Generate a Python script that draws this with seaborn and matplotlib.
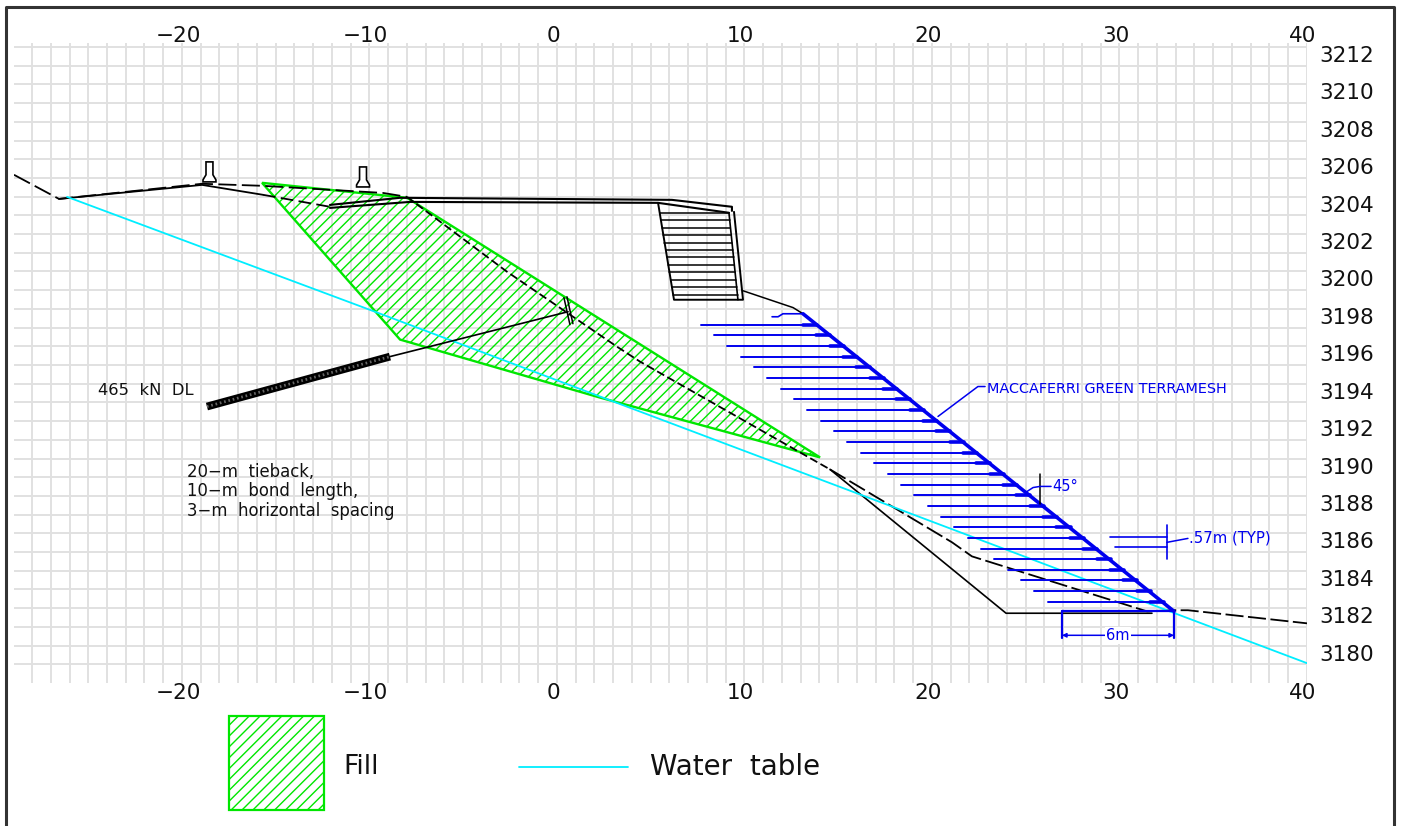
import numpy as np
import pandas as pd
import seaborn as sns
import matplotlib
matplotlib.use('Agg')
import matplotlib.pyplot as plt
from matplotlib.lines import Line2D
from matplotlib.patches import Polygon, Rectangle
from matplotlib.transforms import Affine2D

# section geometry, metres (offset) and metres (elevation)
x_top_labels = [-20, -10, 0, 10, 20, 30, 40]
y_right_labels = list(range(3212, 3178, -2))

ground_left_x = [-28.96, -26.56, -18.93, -15.68, -9.28, -8.0]
ground_left_y = [3205.17, 3203.88, 3204.69, 3204.58, 3204.2, 3203.99]
ground_mid_x = [-8.0, -2.67, 3.2, 4.43, 14.56]
ground_mid_y = [3203.99, 3199.99, 3195.98, 3195.18, 3189.42]
ground_right_x = [14.56, 21.07, 22.13, 31.47, 32.85, 33.65, 40.0]
ground_right_y = [3189.42, 3185.52, 3184.77, 3181.83, 3181.89, 3181.89, 3181.19]

solid_x = [-26.56, -18.93, -15.68]
solid_y = [3203.88, 3204.63, 3204.1]
solid_dash_x = [-15.68, -12.11]
solid_dash_y = [3204.1, 3203.46]

road_top_x = [-12.11, -8.37, 6.13, 9.33, 9.33]
road_top_y = [3203.56, 3203.94, 3203.83, 3203.46, 3203.24]
road_low_x = [-12.11, -7.84, 5.39, 9.17]
road_low_y = [3203.4, 3203.72, 3203.67, 3203.14]

wall_x = [5.39, 6.24, 9.92, 9.44]
wall_y = [3203.67, 3198.49, 3198.49, 3203.19]
wall_in_x = [9.17, 9.65]
wall_in_y = [3203.14, 3198.49]
layer_y = [3203.15, 3202.76, 3202.35, 3201.96, 3201.55, 3201.15, 3200.76, 3200.35, 3199.96, 3199.56, 3199.15, 3198.76]
layer_x0 = [5.47, 5.54, 5.6, 5.67, 5.73, 5.8, 5.87, 5.94, 6.0, 6.06, 6.13, 6.2]
layer_x1 = [9.17, 9.21, 9.25, 9.3, 9.33, 9.38, 9.42, 9.46, 9.5, 9.54, 9.58, 9.63]

bench_x = [9.92, 12.59, 13.12]
bench_y = [3198.97, 3198.07, 3197.74]
cut_x = [14.56, 23.95, 31.73]
cut_y = [3189.42, 3181.73, 3181.73]

water_x = [-26.13, -9.71, 16.16, 40.0]
water_y = [3203.99, 3197.85, 3188.08, 3179.06]

fill_x = [-15.73, -8.0, 14.03, 2.29, -8.37]
fill_y = [3204.74, 3203.94, 3190.06, 3193.26, 3196.36]

# geogrid strips
strip_y = [3197.16, 3196.59, 3196.02, 3195.45, 3194.88, 3194.31, 3193.74, 3193.17, 3192.60,
           3192.03, 3191.46, 3190.89, 3190.32, 3189.75, 3189.18, 3188.61, 3188.04, 3187.47,
           3186.90, 3186.33, 3185.76, 3185.19, 3184.62, 3184.05, 3183.48, 3182.91, 3182.34]
strip_x0 = [7.66, 8.37, 9.09, 9.80, 10.51, 11.22, 11.93, 12.65, 13.36, 14.07, 14.78, 15.49, 16.21,
            16.92, 17.63, 18.34, 19.05, 19.77, 20.48, 21.19, 21.90, 22.61, 23.33, 24.04, 24.75, 25.46, 26.17]
strip_x1 = [13.86, 14.57, 15.29, 16.00, 16.71, 17.42, 18.13, 18.85, 19.56, 20.27, 20.98, 21.69, 22.41,
            23.12, 23.83, 24.54, 25.25, 25.97, 26.68, 27.39, 28.10, 28.81, 29.53, 30.24, 30.95, 31.66, 32.37]
face_x = [13.12, 32.91]
face_y = [3197.74, 3181.83]
cap_x = [11.47, 11.79, 12.05, 13.12]
cap_y = [3197.58, 3197.58, 3197.74, 3197.74]

# tieback
bond_x = [-18.67, -8.91]
bond_y = [3192.78, 3195.45]
tendon_x = [-8.91, 0.59]
tendon_y = [3195.45, 3197.85]
plate_a_x = [0.37, 0.69]
plate_a_y = [3198.6, 3197.16]
plate_b_x = [0.53, 0.85]
plate_b_y = [3198.65, 3197.21]

# barriers
barrier1_x = [-18.72, -18.35, -18.35, -18.19, -18.19, -18.88, -18.88, -18.72]
barrier1_y = [3205.86, 3205.86, 3205.17, 3204.9, 3204.79, 3204.79, 3204.9, 3205.17]
barrier2_x = [-10.53, -10.16, -10.16, -10.0, -10.0, -10.69, -10.69, -10.53]
barrier2_y = [3205.59, 3205.59, 3204.9, 3204.63, 3204.52, 3204.52, 3204.63, 3204.9]

BLUE = '#0000ee'
GREEN = '#00e600'
CYAN = '#00eeff'
GRID = '#e0e0e0'

sns.set_theme(style='white')
plt.rcParams['font.family'] = ['DejaVu Sans']

fig = plt.figure(figsize=(14.01, 8.26), dpi=100, facecolor='white')
ax = fig.add_axes([14 / 1401, 1 - 683 / 826, 1293 / 1401, 639.7 / 826])
ax.set_facecolor('white')


def line(x, y, color='black', lw=1.2, **kw):
    df = pd.DataFrame({'x': x, 'y': y})
    sns.lineplot(data=df, x='x', y='y', ax=ax, sort=False, estimator=None, errorbar=None,
                 color=color, linewidth=lw, legend=False, zorder=kw.pop('zorder', 3), **kw)


def hatch(patch, x0, x1, y0, length, step=0.58):
    # 45 degree lines, clipped to the patch
    for off in np.arange(x0, x1, step):
        h = ax.plot([off, off + length], [y0, y0 + length], color=GREEN, lw=1.0, zorder=2)[0]
        h.set_clip_path(patch)


ax.set_xlim(-28.96, 40)
ax.set_ylim(3178, 3212.2)
ax.set_xticks(x_top_labels)
ax.set_xticklabels([str(v).replace('-', '\u2212') for v in x_top_labels])
ax.set_xticks(np.arange(-28, 41), minor=True)
ax.set_yticks(y_right_labels)
ax.set_yticks(np.arange(3179, 3213), minor=True)
ax.grid(which='both', color=GRID, linewidth=1.35, zorder=0)
ax.set_axisbelow(True)
ax.tick_params(axis='x', which='major', length=0, labelsize=15.5, labeltop=True, labelbottom=True,
               top=False, bottom=False, pad=0, labelcolor='#111111')
ax.tick_params(axis='y', which='major', length=0, labelsize=15.5, labelright=True, labelleft=False,
               left=False, right=False, pad=9, labelcolor='#111111')
ax.tick_params(which='minor', length=0)
for s in ax.spines.values():
    s.set_visible(False)

# fill zone
fill = Polygon(list(zip(fill_x, fill_y)), closed=True, fc='none', ec=GREEN, lw=1.7, zorder=2.5)
ax.add_patch(fill)
hatch(fill, -62, -15, 3160, 60)

# profiles
line(ground_left_x, ground_left_y, lw=1.3, linestyle=(0, (10, 3)))
line(ground_mid_x, ground_mid_y, lw=1.3, linestyle=(0, (4.5, 2)))
line(ground_right_x, ground_right_y, lw=1.3, linestyle=(0, (10, 2.5)))
line(solid_x, solid_y, lw=1.3)
line(solid_dash_x, solid_dash_y, lw=1.3, linestyle=(0, (7, 3)))
line(road_top_x, road_top_y, lw=1.5)
line(road_low_x, road_low_y, lw=1.5)
line(wall_x, wall_y, lw=1.4)
line(wall_in_x, wall_in_y, lw=1.2)
for yy, a, b in zip(layer_y, layer_x0, layer_x1):
    line([a, b], [yy, yy], lw=1.1)
line(bench_x, bench_y, lw=1.1)
line(cut_x, cut_y, lw=1.2)
line(water_x, water_y, color=CYAN, lw=1.3)

# barriers
for bx, by in [(barrier1_x, barrier1_y), (barrier2_x, barrier2_y)]:
    ax.add_patch(Polygon(list(zip(bx, by)), closed=True, fc='white', ec='black', lw=1.2, zorder=4))

# tieback
line(bond_x, bond_y, lw=5.6, solid_capstyle='butt')
line(bond_x, bond_y, color='#666666', lw=2.0, linestyle=(0, (0.6, 1.0)), zorder=4)
line(tendon_x, tendon_y, lw=1.2)
line(plate_a_x, plate_a_y, lw=1.1)
line(plate_b_x, plate_b_y, lw=1.1)

# geogrid
for yy, a, b in zip(strip_y, strip_x0, strip_x1):
    line([a, b], [yy, yy], color=BLUE, lw=1.4)
    line([b - 0.75, b], [yy, yy], color=BLUE, lw=2.6)
line(face_x, face_y, color=BLUE, lw=2.6)
line(cap_x, cap_y, color=BLUE, lw=1.2)

# annotations in blue
line([20.32, 22.45, 22.83], [3192.25, 3193.85, 3193.85], color=BLUE, lw=1.1)
ax.text(22.93, 3193.74, 'MACCAFERRI GREEN TERRAMESH', color=BLUE, fontsize=10.35, va='center', ha='left')

line([25.76, 25.76], [3189.15, 3187.55], lw=1.1)
line([25.07, 25.39, 25.76, 26.35], [3188.24, 3188.45, 3188.51, 3188.51], color=BLUE, lw=1.1)
ax.text(26.4, 3188.51, '45\u00b0', color=BLUE, fontsize=10.5, va='center', ha='left')

line([29.49, 32.53], [3185.78, 3185.78], color=BLUE, lw=1.2)
line([29.76, 32.53], [3185.25, 3185.25], color=BLUE, lw=1.2)
line([32.53, 32.53], [3186.43, 3184.61], color=BLUE, lw=1.2)
line([32.53, 33.65], [3185.52, 3185.73], color=BLUE, lw=1.1)
ax.text(33.7, 3185.73, '.57m (TYP)', color=BLUE, fontsize=10.7, va='center', ha='left')

line([26.93, 26.93], [3181.83, 3180.39], color=BLUE, lw=1.6)
line([32.91, 32.91], [3181.83, 3180.39], color=BLUE, lw=1.6)
line([26.93, 32.91], [3181.83, 3181.83], color=BLUE, lw=1.6)
ax.annotate('', xy=(32.91, 3180.55), xytext=(26.93, 3180.55), zorder=3,
            arrowprops=dict(arrowstyle='<|-|>', color=BLUE, lw=1.1, mutation_scale=6, shrinkA=0, shrinkB=0))
ax.text(29.92, 3180.55, '6m', color=BLUE, fontsize=10.5, va='center', ha='center', zorder=5,
        bbox=dict(fc='white', ec='none', pad=0.6))

# black notes
ax.text(-24.48, 3193.63, '465  kN  DL', fontsize=11.8, color='#111111', va='center', ha='left')
ax.text(-19.73, 3188.24, '20\u2212m  tieback,\n10\u2212m  bond  length,\n3\u2212m  horizontal  spacing',
        fontsize=11.9, color='#111111', va='center', ha='left', linespacing=1.12)

# legend below the grid
swatch = Rectangle((-17.49, 3171.21), 5.06, 5.02, fc='none', ec=GREEN, lw=1.6, clip_on=False, zorder=2.5)
ax.add_patch(swatch)
hatch(swatch, -22.6, -12.4, 3171.21, 6)
ax.text(-11.41, 3173.5, 'Fill', fontsize=19, color='#111111', va='center', ha='left')
line([-2.03, 3.79], [3173.5, 3173.5], color=CYAN, lw=1.3, clip_on=False)
ax.text(4.96, 3173.5, 'Water  table', fontsize=20, color='#111111', va='center', ha='left')

ax.set_xlim(-28.96, 40)
ax.set_ylim(3178, 3212.2)
ax.set_xlabel('')
ax.set_ylabel('')

# tick label nudges (pixels)
for t in ax.xaxis.get_major_ticks():
    t.label1.set_transform(t.label1.get_transform() + Affine2D().translate(-4, 0))
    t.label2.set_transform(t.label2.get_transform() + Affine2D().translate(-4, -3))
for t in ax.yaxis.get_major_ticks():
    t.label2.set_transform(t.label2.get_transform() + Affine2D().translate(0, -7))

# sheet border, open at the bottom
fw, fh = 1401, 826
fig.add_artist(Line2D([6 / fw, 6 / fw, 1394 / fw, 1394 / fw], [0, 1 - 7 / fh, 1 - 7 / fh, 0],
                      color='#333333', lw=2.2))

fig.savefig('out.png', dpi=100)
